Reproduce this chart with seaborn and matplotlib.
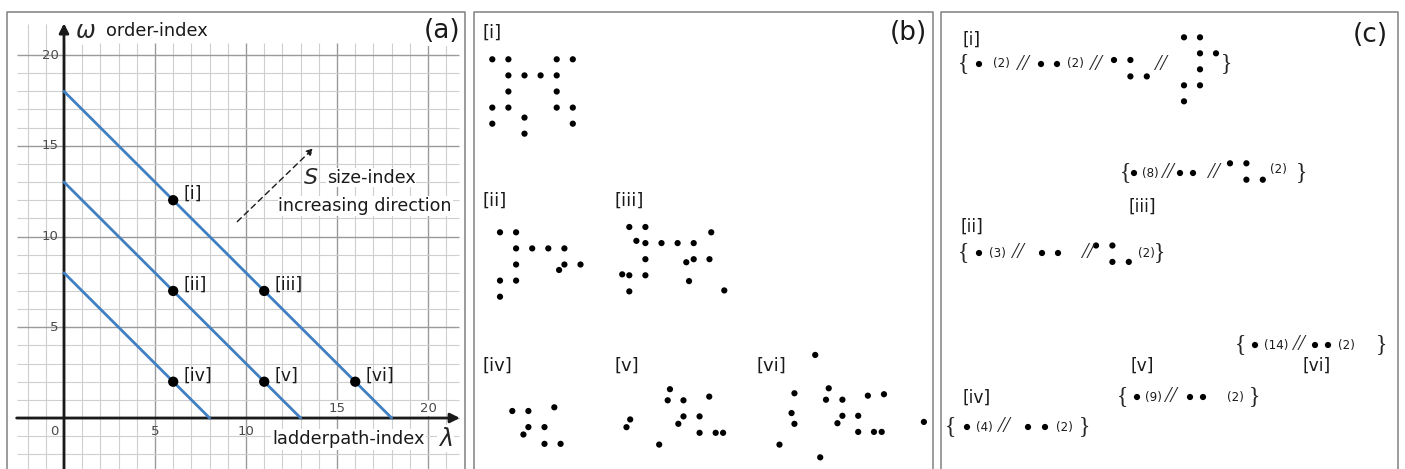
import numpy as np
import pandas as pd
import matplotlib
matplotlib.use("Agg")
import matplotlib.pyplot as plt
import seaborn as sns

# ------------------------------------------------------------------ data
# panel (a): lines of constant size-index S = lambda + omega
size_levels = [18, 13, 8]
point_names = ["[i]", "[ii]", "[iii]", "[iv]", "[v]", "[vi]"]
point_lambda = [6, 6, 11, 6, 11, 16]
point_omega = [12, 7, 7, 2, 2, 2]
x_tick_values = [0, 5, 10, 15, 20]
y_tick_values = [5, 10, 15, 20]

# panel (b): dot patterns (lattice units, x to the right, y downwards)
pat_i_x = [0, 1, 4, 5, 1, 2, 3, 4, 1, 4, 0, 1, 4, 5, 2, 0, 5, 2]
pat_i_y = [0, 0, 0, 0, 1, 1, 1, 1, 2, 2, 3, 3, 3, 3, 3.62, 4, 4, 4.62]

pat_ii_x = [0, 1, 1, 2, 3, 4, 1, 4, 5, 3.67, 0, 1, 0]
pat_ii_y = [0, 0, 1, 1, 1, 1, 2, 2, 2, 2.34, 3, 3, 4]

pat_iii_x = [0, 1, 5.09, 0.44, 1, 2, 3, 4, 1, 3.54, 4, 4.98, -0.44, 0, 1, 3.71, 0, 5.9]
pat_iii_y = [0, 0, 0.33, 0.86, 1, 1, 1, 1, 2, 2.19, 2, 2, 2.94, 3, 3, 3.36, 4, 3.94]

pat_iv_x = [0, 1, 2.61, 1, 2, 0.69, 2, 3]
pat_iv_y = [0, 0, -0.23, 1, 1, 1.46, 2.04, 2.04]

pat_v_x = [0.14, 0, 0.98, 2.58, 0.98, 1.98, 0.66, 1.98, 2.98, 3.44, -0.53, -2.56, -2.33]
pat_v_y = [-0.69, 0, 0, -0.23, 1, 1, 1.46, 2.02, 2.02, 2.02, 2.75, 1.67, 1.19]

pat_vi_x = [-0.67, -1.96, 0.17, 0, 1.02, 2.6, 3.6, -2.14, -1.96, 1.02, 2, 0.71,
            2, 2.98, 3.46, 6.08, -2.89, -0.36]
pat_vi_y = [-2.78, -0.4, -0.71, 0, 0, -0.25, -0.34, 0.83, 1.5, 1, 1, 1.46,
            2, 2, 2, 1.38, 2.79, 3.58]

# panel (c): building blocks and multiplicities
block_small_x = [0, 1, 1, 2]
block_small_y = [0, 0, 1, 1]
block_big_x = [0, 1, 1, 2, 1, 0, 1, 0]
block_big_y = [0, 0, 1, 1, 2, 3, 3, 4]
mult_i = ["(2)", "(2)"]
mult_ii = ["(3)", "(2)"]
mult_iii = ["(8)", "(2)"]
mult_iv = ["(4)", "(2)"]
mult_v = ["(9)", "(2)"]
mult_vi = ["(14)", "(2)"]

# ------------------------------------------------------------------ style
sns.set_theme(style="white")
plt.rcParams["font.family"] = ["DejaVu Sans"]
W, H = 1405, 469
fig = plt.figure(figsize=(W / 100, H / 100), dpi=100)

BLUE = "#3f7fc2"
BORDER = "#808080"
TICKC = "#4a4a4a"
TXT = "#1a1a1a"

# overlay axes in pixel coordinates (panels b, c, borders)
ov = fig.add_axes([0, 0, 1, 1], zorder=0)
ov.set_xlim(0, W)
ov.set_ylim(H, 0)
ov.axis("off")

# panel borders (bottom edge lies outside the image)
for left, right in [(7, 465), (473.5, 933), (940.5, 1398)]:
    ov.plot([left, left, right, right], [H + 5, 12, 12, H + 5], color=BORDER, lw=1.1)

# ------------------------------------------------------------------ panel (a)
px0, py0 = 7, 12
ax = fig.add_axes([px0 / W, 0, (465 - px0) / W, (H - py0) / H], zorder=2)
ax.patch.set_alpha(0)
ax.set_xlim(-3.13, 22.03)
ax.set_ylim(-2.81, 22.37)
ax.axis("off")

# grid
for v in range(-2, 22):
    major = v % 5 == 0
    top = 21.7 if v < 0 else 20.65
    ax.vlines(v, -2.9, top, colors="#9a9a9a" if major else "#cfcfcf",
              lw=1.0 if major else 0.8, zorder=0)
for h in range(-2, 21):
    major = h % 5 == 0
    ax.hlines(h, -2.6, 21.7, colors="#9a9a9a" if major else "#cfcfcf",
              lw=1.0 if major else 0.8, zorder=0)

# axes arrows
ax.annotate("", xy=(0, 21.75), xytext=(0, -2.9),
            arrowprops=dict(arrowstyle="-|>", lw=2, color="k", mutation_scale=14,
                            shrinkA=0, shrinkB=0), zorder=3)
ax.annotate("", xy=(21.75, 0), xytext=(-2.6, 0),
            arrowprops=dict(arrowstyle="-|>", lw=2, color="k", mutation_scale=14,
                            shrinkA=0, shrinkB=0), zorder=3)

# constant-size lines
rows = []
for s in size_levels:
    rows.append({"lam": 0, "omega": s, "S": s})
    rows.append({"lam": s, "omega": 0, "S": s})
df_lines = pd.DataFrame(rows)
sns.lineplot(data=df_lines, x="lam", y="omega", units="S", estimator=None,
             sort=False, color=BLUE, lw=2.0, ax=ax, zorder=4)

df_pts = pd.DataFrame({"lam": point_lambda, "omega": point_omega, "name": point_names})
sns.scatterplot(data=df_pts, x="lam", y="omega", color="black", s=55,
                edgecolor="none", ax=ax, zorder=5)
for _, r in df_pts.iterrows():
    ax.text(r.lam + 0.55, r.omega + 0.35, r["name"], fontsize=12.5,
            va="center", ha="left", color=TXT, zorder=6)
ax.set_xlabel("")
ax.set_ylabel("")

# tick labels
for v in y_tick_values:
    ax.text(-0.3, v, str(v), ha="right", va="center", fontsize=9.5, color=TICKC)
for v in x_tick_values:
    if v == 0:
        ax.text(-0.3, -0.75, "0", ha="right", va="center", fontsize=9.5, color=TICKC)
    elif v < 15:
        ax.text(v, -0.75, str(v), ha="center", va="center", fontsize=9.5, color=TICKC)
    else:
        ax.text(v, 0.53, str(v), ha="center", va="center", fontsize=9.5, color=TICKC,
                bbox=dict(fc="white", ec="none", pad=0.5))

# axis titles
ax.text(1.2, 21.3, r"$\omega$", fontsize=17, ha="center", va="center",
        bbox=dict(fc="white", ec="none", pad=1))
ax.text(2.3, 21.3, "order-index", fontsize=12.8, ha="left", va="center", color=TXT,
        bbox=dict(fc="white", ec="none", pad=1))
ax.text(11.45, -1.18, "ladderpath-index", fontsize=12.8, ha="left", va="center", color=TXT,
        bbox=dict(fc="white", ec="none", pad=1))
ax.text(20.95, -1.15, r"$\lambda$", fontsize=17, ha="center", va="center",
        bbox=dict(fc="white", ec="none", pad=1))

# size-index annotation
ax.annotate("", xy=(13.7, 14.86), xytext=(9.52, 10.82),
            arrowprops=dict(arrowstyle="-|>", lw=1.0, color="k", ls=(0, (4, 3)),
                            mutation_scale=10, shrinkA=0, shrinkB=0), zorder=6)
ax.text(13.55, 13.25, r"$S$", fontsize=16, ha="center", va="center",
        bbox=dict(fc="white", ec="none", pad=0.5), zorder=6)
ax.text(14.45, 13.25, "size-index", fontsize=12.6, ha="left", va="center", color=TXT,
        bbox=dict(fc="white", ec="none", pad=0.5), zorder=6)
ax.text(16.55, 11.68, "increasing direction", fontsize=12.6, ha="center", va="center",
        color=TXT, bbox=dict(fc="white", ec="none", pad=0.5), zorder=6)

ax.text(21.75, 21.3, "(a)", fontsize=19, ha="right", va="center", color=TXT,
        bbox=dict(fc="white", ec="none", pad=1), zorder=6)

# ------------------------------------------------------------------ panel (b)
UNIT = 16.1
DOT_S = 20


def draw_pattern(xs, ys, x0, y0, unit=UNIT):
    d = pd.DataFrame({"x": np.asarray(xs) * unit + x0, "y": np.asarray(ys) * unit + y0})
    sns.scatterplot(data=d, x="x", y="y", color="black", s=DOT_S,
                    edgecolor="none", ax=ov, legend=False)


b_patterns = [
    ("[i]", pat_i_x, pat_i_y, (483, 33), (492.3, 59.3)),
    ("[ii]", pat_ii_x, pat_ii_y, (483, 201), (500, 232.3)),
    ("[iii]", pat_iii_x, pat_iii_y, (615, 201), (629.3, 227)),
    ("[iv]", pat_iv_x, pat_iv_y, (483, 366), (512.3, 411)),
    ("[v]", pat_v_x, pat_v_y, (615, 366), (667.7, 400.3)),
    ("[vi]", pat_vi_x, pat_vi_y, (757, 366), (826, 399.7)),
]
for name, xs, ys, lab, org in b_patterns:
    ov.text(lab[0], lab[1], name, fontsize=13, ha="left", va="center", color=TXT)
    draw_pattern(xs, ys, *org)
ov.text(927, 33, "(b)", fontsize=19, ha="right", va="center", color=TXT)

# ------------------------------------------------------------------ panel (c)
BRACE_KW = dict(fontsize=17, family="Liberation Serif", ha="center", va="center")
SLASH_KW = dict(fontsize=16.5, family="Liberation Serif", ha="center", va="center",
                style="italic")
MULT_KW = dict(fontsize=8.6, ha="center", va="center", color=TXT)


def dots(xs, y):
    d = pd.DataFrame({"x": xs, "y": [y] * len(xs)})
    sns.scatterplot(data=d, x="x", y="y", color="black", s=DOT_S,
                    edgecolor="none", ax=ov, legend=False)


def draw_tokens(tokens):
    for kind, val, x, y in tokens:
        if kind == "brace":
            ov.text(x, y, val, **BRACE_KW)
        elif kind == "slash":
            ov.text(x, y, "//", **SLASH_KW)
        elif kind == "mult":
            ov.text(x, y, val, **MULT_KW)
        elif kind == "dots":
            dots(val, y)
        elif kind == "small":
            draw_pattern(block_small_x, block_small_y, x, y, unit=16.4)
        elif kind == "big":
            draw_pattern(block_big_x, block_big_y, x, y, unit=16.0)


c_labels = [("[i]", 962, 40), ("[ii]", 960, 227), ("[iii]", 1128, 207),
            ("[iv]", 962, 398), ("[v]", 1130, 366), ("[vi]", 1303, 366)]
for name, x, y in c_labels:
    ov.text(x, y, name, fontsize=12.3, ha="left", va="center", color=TXT)
ov.text(1388, 35, "(c)", fontsize=19, ha="right", va="center", color=TXT)

yl = 64
draw_tokens([
    ("brace", "{", 963, yl), ("dots", [979], 0, yl), ("mult", mult_i[0], 1001, yl),
    ("slash", None, 1022, yl), ("dots", [1041, 1057], 0, yl), ("mult", mult_i[1], 1075.5, yl),
    ("slash", None, 1095, yl), ("small", None, 1114, 60), ("slash", None, 1160, yl),
    ("big", None, 1184, 37.3), ("brace", "}", 1227, yl),
])
yl = 173
draw_tokens([
    ("brace", "{", 1125, yl), ("dots", [1134], 0, yl), ("mult", mult_iii[0], 1150, yl),
    ("slash", None, 1167, yl), ("dots", [1180, 1193], 0, yl), ("slash", None, 1213, yl),
    ("small", None, 1230, 163.3), ("mult", mult_iii[1], 1278.5, 169),
    ("brace", "}", 1302, yl),
])
yl = 253
draw_tokens([
    ("brace", "{", 963, yl), ("dots", [979], 0, yl), ("mult", mult_ii[0], 997.5, yl),
    ("slash", None, 1017, yl), ("dots", [1042, 1058], 0, yl), ("slash", None, 1087, yl),
    ("small", None, 1096, 245.5), ("mult", mult_ii[1], 1146.5, 253),
    ("brace", "}", 1160, yl),
])
yl = 345
draw_tokens([
    ("brace", "{", 1240, yl), ("dots", [1255], 0, yl), ("mult", mult_vi[0], 1276, yl),
    ("slash", None, 1298, yl), ("dots", [1315, 1328], 0, yl), ("mult", mult_vi[1], 1346.5, yl),
    ("brace", "}", 1382, yl),
])
yl = 397
draw_tokens([
    ("brace", "{", 1122, yl), ("dots", [1137], 0, yl), ("mult", mult_v[0], 1153.5, yl),
    ("slash", None, 1170, yl), ("dots", [1190, 1203], 0, yl), ("mult", mult_v[1], 1235, yl),
    ("brace", "}", 1255, yl),
])
yl = 427
draw_tokens([
    ("brace", "{", 950, yl), ("dots", [967], 0, yl), ("mult", mult_iv[0], 984.5, yl),
    ("slash", None, 1003, yl), ("dots", [1028, 1045], 0, yl), ("mult", mult_iv[1], 1064, yl),
    ("brace", "}", 1085, yl),
])

ov.set_xlim(0, W)
ov.set_ylim(H, 0)
ov.set_xlabel("")
ov.set_ylabel("")

fig.savefig("out.png", dpi=100)
